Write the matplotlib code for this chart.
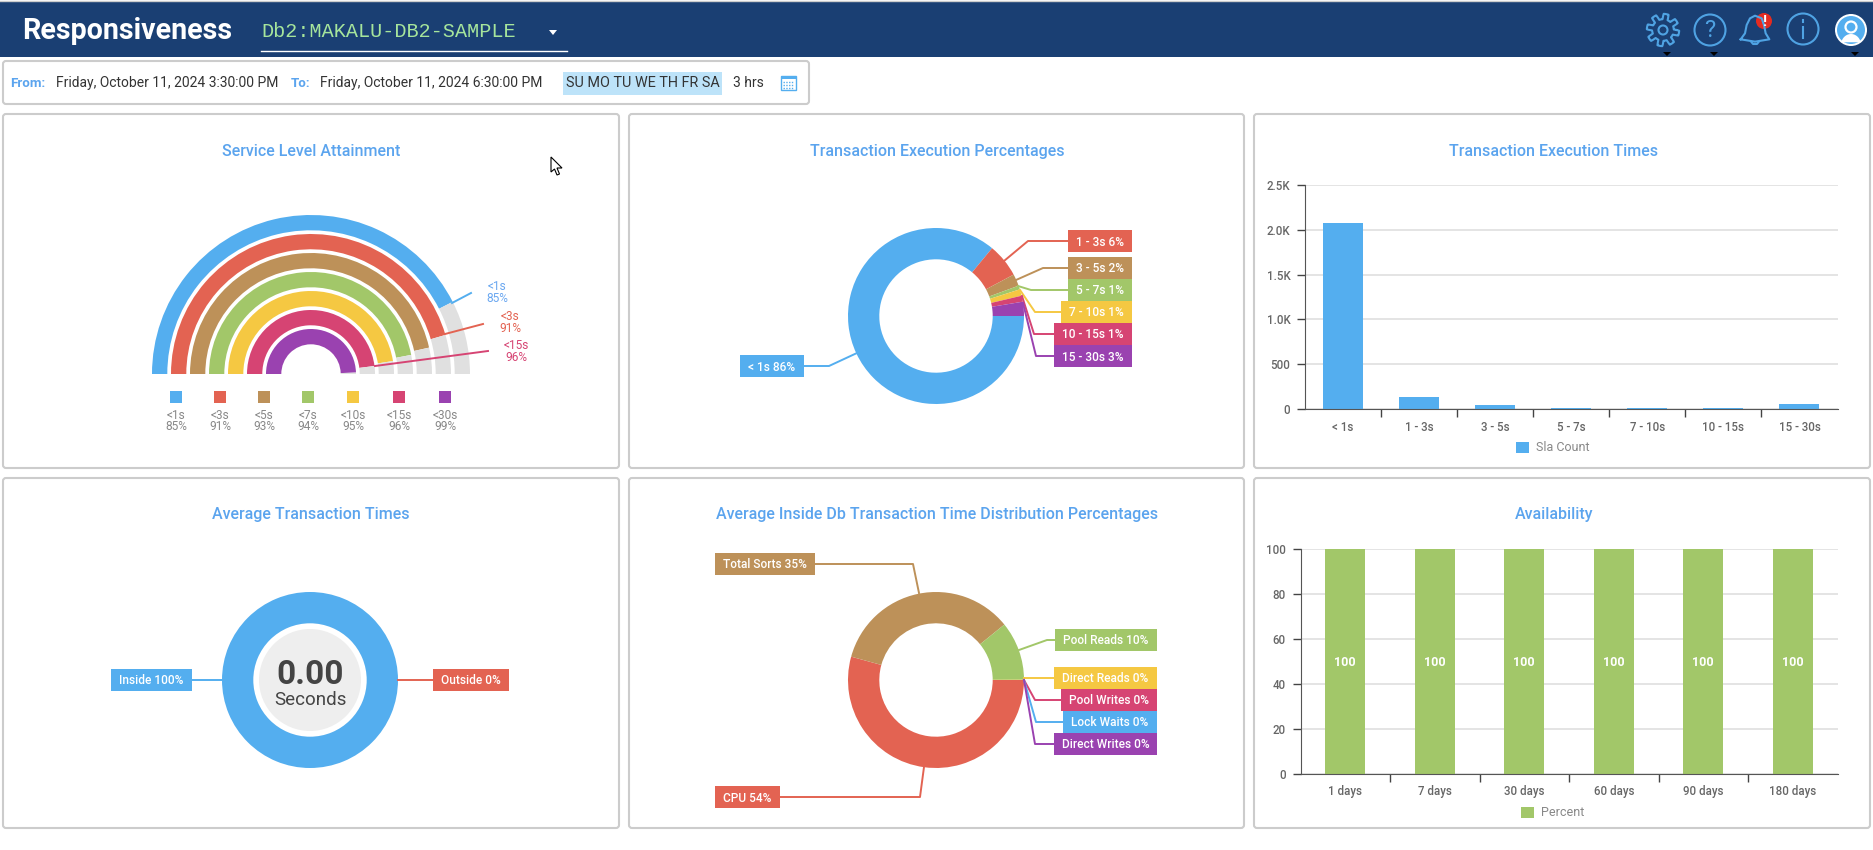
import numpy as np
import matplotlib.pyplot as plt
from matplotlib.patches import Circle, FancyBboxPatch, Rectangle

plt.rcParams['font.family'] = 'Roboto'

blue = '#54aeef'
red = '#e36352'
tan = '#bd9159'
green = '#a2c769'
yellow = '#f5c842'
pink = '#d64473'
purple = '#9a42b0'
grey = '#e0e0e0'
title_blue = '#5ba4ee'

# service level rings, outermost first
rings = {
    '<1s': 85, '<3s': 91, '<5s': 93, '<7s': 94, '<10s': 95, '<15s': 96, '<30s': 99
}
ring_colors = [blue, red, tan, green, yellow, pink, purple]
ring_radius = [159, 140, 121, 102, 83, 64, 45]
legend_x = [176, 220, 264, 308, 353, 399, 445]

# donut slices, clockwise from 3 o'clock
execution = [86, 6.2, 2.2, 0.7, 1.2, 1.1, 2.6]
execution_colors = [blue, red, tan, green, yellow, pink, purple]
average = [100, 0]
inside_db = [54.3, 34.9, 10.8, 0.05, 0, 0, 0]
inside_db_colors = [red, tan, green, yellow, pink, blue, purple]

# bars
sla_names = ['< 1s', '1 - 3s', '3 - 5s', '5 - 7s', '7 - 10s', '10 - 15s', '15 - 30s']
sla_count = [2080, 138, 48, 15, 15, 15, 60]
days = ['1 days', '7 days', '30 days', '60 days', '90 days', '180 days']
percent = [100, 100, 100, 100, 100, 100]

# boxes on the donuts: text, colour, x0, x1, y0, y1, leader line
boxes = [
    ('1 - 3s 6%', red, 1068, 1132, 230, 252, [(1004, 261), (1028, 241), (1068, 241)]),
    ('3 - 5s 2%', tan, 1068, 1132, 257, 279, [(1016, 280), (1043, 268), (1068, 268)]),
    ('5 - 7s 1%', green, 1068, 1132, 279, 301, [(1018, 286), (1031, 290), (1068, 290)]),
    ('7 - 10s 1%', yellow, 1061, 1132, 301, 323, [(1020, 290), (1035, 312), (1061, 312)]),
    ('10 - 15s 1%', pink, 1054, 1132, 323, 345, [(1022, 296), (1034, 334), (1054, 334)]),
    ('15 - 30s 3%', purple, 1054, 1132, 345, 367, [(1023, 303), (1036, 356), (1054, 356)]),
    ('< 1s 86%', blue, 740, 804, 355, 377, [(857, 353), (829, 366), (804, 366)]),
    ('Inside 100%', blue, 111, 192, 669, 691, [(222, 680), (192, 680)]),
    ('Outside 0%', red, 433, 509, 669, 691, [(398, 680), (433, 680)]),
    ('Total Sorts 35%', tan, 715, 815, 553, 575, [(919, 593), (913, 564), (815, 564)]),
    ('Pool Reads 10%', green, 1055, 1157, 629, 651, [(1019, 650), (1047, 640), (1055, 640)]),
    ('Direct Reads 0%', yellow, 1054, 1157, 667, 689, [(1024, 678), (1054, 678)]),
    ('Pool Writes 0%', pink, 1061, 1157, 689, 711, [(1024, 680), (1035, 700), (1061, 700)]),
    ('Lock Waits 0%', blue, 1063, 1157, 711, 733, [(1024, 680), (1036, 722), (1063, 722)]),
    ('Direct Writes 0%', purple, 1054, 1157, 733, 755, [(1024, 680), (1035, 744), (1054, 744)]),
    ('CPU 54%', red, 715, 780, 786, 808, [(924, 767), (920, 797), (780, 797)]),
]

plt.figure(figsize=(18.73, 8.5), dpi=100)

# rings and donuts, in pixels with y going up
plt.axes([0, 0, 1, 1])
for pct, color, radius in zip(rings.values(), ring_colors, ring_radius):
    plt.pie([pct, 100 - pct, 100], colors=[color, grey, 'none'], startangle=180, counterclock=False,
            radius=radius, center=(311, 850 - 374), wedgeprops={'width': 15.3, 'linewidth': 0}, frame=True)
plt.pie(execution, colors=execution_colors, counterclock=False, radius=88, center=(936, 850 - 316),
        wedgeprops={'width': 31.3, 'linewidth': 0}, frame=True)
plt.pie(average, colors=[blue, red], counterclock=False, radius=88, center=(310, 850 - 680),
        wedgeprops={'width': 31.3, 'linewidth': 0}, frame=True)
plt.pie(inside_db, colors=inside_db_colors, counterclock=False, radius=88, center=(936, 850 - 680),
        wedgeprops={'width': 31.3, 'linewidth': 0}, frame=True)
plt.xlim(0, 1873)
plt.ylim(0, 850)
plt.axis('off')

# everything around the charts, in pixels with y going down
plt.axes([0, 0, 1, 1], facecolor='none')
plt.xlim(0, 1873)
plt.ylim(850, 0)
plt.axis('off')
ax = plt.gca()

ax.add_patch(Rectangle((0, 1), 1873, 56, color='#1a3f73', lw=0))
plt.plot([0, 1873], [0.5, 0.5], color='#cccccc', lw=1)
plt.text(22, 31, 'Responsiveness', color='white', fontsize=20.6, fontweight='bold', va='center')
plt.text(261, 31, 'Db2:MAKALU-DB2-SAMPLE', color='#a6e59c', fontsize=14.5, family='Liberation Mono', va='center')
plt.plot([261, 567], [51, 51], color='white', lw=1)
plt.fill([549, 557, 553], [30, 30, 35], color='white', lw=0)

# header icons
icon = '#4fa3e3'
t = np.linspace(0, 2 * np.pi, 400)
gear = 13.5 + 2.7 * np.clip(3 * np.sin(8 * t), -1, 1)
plt.plot(1663 + gear * np.cos(t), 30 + gear * np.sin(t), color=icon, lw=1.5)
ax.add_patch(Circle((1663, 30), 4.5, fill=False, ec=icon, lw=1.5))
ax.add_patch(Circle((1710, 30), 15.5, fill=False, ec=icon, lw=1.5))
plt.text(1710, 30, '?', color=icon, fontsize=17, ha='center', va='center')
bell_x = [1022, 1035, 1040, 1050, 1065, 1085, 1092, 1097, 1108, 1065, 1022]
bell_y = [118, 100, 75, 55, 47, 55, 75, 100, 118, 125, 118]
plt.plot(1400 + np.array(bell_x) / 3, np.array(bell_y) / 3, color=icon, lw=1.5)
plt.plot([1751, 1753, 1757, 1759], [41.5, 44, 44, 41.5], color=icon, lw=1.5)
ax.add_patch(Circle((1764, 21), 8, color='#e52b20', lw=0))
plt.text(1764, 21.5, '!', color='white', fontsize=11, fontweight='bold', ha='center', va='center')
ax.add_patch(Circle((1803, 29), 15.5, fill=False, ec=icon, lw=1.5))
plt.plot([1803, 1803], [27, 38], color=icon, lw=1.5)
plt.plot([1803, 1803], [20, 22], color=icon, lw=1.5)
ax.add_patch(Circle((1851, 30), 16, color='white', lw=0))
ax.add_patch(Circle((1851, 30), 14, color=blue, lw=0))
ax.add_patch(Circle((1851, 27), 5.5, fc=blue, ec='white', lw=1.6))
s = np.linspace(np.pi * 1.08, np.pi * 1.92, 50)
plt.fill(1851 + 10 * np.cos(s), 45 + 11 * np.sin(s), color='white', lw=0)
plt.fill([1663, 1671, 1667], [52, 52, 56], color='black', lw=0)
plt.fill([1710, 1718, 1714], [52, 52, 56], color='black', lw=0)
plt.fill([1851, 1859, 1855], [52, 52, 56], color='black', lw=0)

# date bar
ax.add_patch(FancyBboxPatch((3, 61), 806, 43, boxstyle='round,pad=0,rounding_size=3', fc='white', ec='#cccccc', lw=1.5))
plt.text(10, 83, 'From:', color=title_blue, fontsize=9.6, fontweight='bold', va='center')
plt.text(56, 83, 'Friday, October 11, 2024 3:30:00 PM', color='#333333', fontsize=10, va='center')
plt.text(291, 83, 'To:', color=title_blue, fontsize=9.6, fontweight='bold', va='center')
plt.text(320, 83, 'Friday, October 11, 2024 6:30:00 PM', color='#333333', fontsize=10, va='center')
ax.add_patch(Rectangle((563, 72), 159, 23, color='#bde3f9', lw=0))
plt.text(642.5, 83, 'SU MO TU WE TH FR SA', color='#333333', fontsize=10.4, ha='center', va='center')
plt.text(733, 83, '3 hrs', color='#333333', fontsize=10, va='center')
ax.add_patch(Rectangle((781, 76), 15, 14, fill=False, ec=blue, lw=1))
ax.add_patch(Rectangle((781, 76), 15, 3, color=blue, lw=0))
for gy in [82, 85, 88]:
    plt.plot([783, 794], [gy, gy], color=blue, lw=1, ls=(0, (1, 1)))

# panels
panels = [(3, 619), (629, 1244), (1254, 1870)]
for x0, x1 in panels:
    for y0, y1 in [(114, 468), (478, 828)]:
        ax.add_patch(FancyBboxPatch((x0, y0), x1 - x0, y1 - y0, boxstyle='round,pad=0,rounding_size=3',
                                    fc='none', ec='#cccccc', lw=1.5))
titles = [
    (311, 151, 'Service Level Attainment'),
    (937, 151, 'Transaction Execution Percentages'),
    (1554, 151, 'Transaction Execution Times'),
    (311, 514.5, 'Average Transaction Times'),
    (937, 514.5, 'Average Inside Db Transaction Time Distribution Percentages'),
    (1554, 514.5, 'Availability'),
]
for x, y, text in titles:
    plt.text(x, y, text, color=title_blue, fontsize=11.5, fontweight='medium', ha='center', va='center')

# rings legend and callouts
for name, pct, color, x in zip(rings, rings.values(), ring_colors, legend_x):
    ax.add_patch(Rectangle((x - 6, 391), 12, 12, color=color, lw=0))
    plt.text(x, 415, name, color='#888888', fontsize=8.6, ha='center', va='center')
    plt.text(x, 426.5, '%d%%' % pct, color='#888888', fontsize=8.6, ha='center', va='center')
plt.plot([452, 471], [303, 293], color=blue, lw=1.4)
plt.text(497, 286, '<1s', color='#6aa7f0', fontsize=8.6, ha='center', va='center')
plt.text(497, 298, '85%', color='#6aa7f0', fontsize=8.6, ha='center', va='center')
plt.plot([445, 483], [334, 324], color=red, lw=1.4)
plt.text(510, 317, '<3s', color=red, fontsize=8.6, ha='center', va='center')
plt.text(510, 329, '91%', color=red, fontsize=8.6, ha='center', va='center')
plt.plot([375, 488], [366, 351], color=pink, lw=1.4)
plt.text(516, 345, '<15s', color=pink, fontsize=8.6, ha='center', va='center')
plt.text(516, 357, '96%', color=pink, fontsize=8.6, ha='center', va='center')

# donut boxes
for text, color, x0, x1, y0, y1, leader in boxes:
    plt.plot([p[0] for p in leader], [p[1] for p in leader], color=color, lw=1.4)
    ax.add_patch(Rectangle((x0, y0), x1 - x0, y1 - y0, color=color, lw=0))
    plt.text((x0 + x1) / 2, (y0 + y1) / 2 + 1, text, color='white', fontsize=8.6, fontweight='medium', ha='center', va='center')

# middle of the average donut
ax.add_patch(Circle((310, 680), 51, color='#eeeeee', lw=0))
plt.text(310, 675, '0.00', color='#444444', fontsize=24, fontweight='bold', ha='center', va='center')
plt.text(310, 700, 'Seconds', color='#444444', fontsize=13.5, ha='center', va='center')

# mouse pointer
plt.fill([551, 551, 554.5, 557, 559.5, 557, 562], [157, 172, 169, 175, 174, 168, 168], fc='white', ec='black', lw=0.8)

# execution times bars
plt.axes([1305 / 1873, (850 - 409) / 850, (1837.5 - 1305) / 1873, 224 / 850], facecolor='none')
plt.bar(sla_names, sla_count, width=0.525, color=blue, label='Sla Count', zorder=2)
plt.xlim(-0.5, 6.5)
plt.ylim(0, 2500)
plt.yticks([0, 500, 1000, 1500, 2000, 2500], ['0', '500', '1.0K', '1.5K', '2.0K', '2.5K'], fontweight='medium')
plt.xticks(fontweight='medium')
plt.grid(axis='y', color='#dddddd', lw=1.1, zorder=0)
plt.gca().set_xticks(np.arange(0.5, 6), minor=True)
plt.tick_params(axis='x', which='major', length=0, pad=8.5, labelsize=8.3, labelcolor='#666666')
plt.tick_params(axis='x', which='minor', length=6, width=1, color='#444444')
plt.tick_params(axis='y', length=6, width=1, color='#444444', pad=4.5, labelsize=8.3, labelcolor='#666666')
plt.gca().spines[['top', 'right']].set_visible(False)
plt.gca().spines[['left', 'bottom']].set_color('#555555')
plt.legend(loc='center', bbox_to_anchor=(0.466, -0.174), frameon=False, handlelength=1, handleheight=1,
           handletextpad=0.6, fontsize=9, labelcolor='#888888')

# availability bars
plt.axes([1300.5 / 1873, (850 - 774) / 850, (1837.5 - 1300.5) / 1873, 225 / 850], facecolor='none')
plt.bar(days, percent, width=0.447, color=green, label='Percent', zorder=2)
for i, value in enumerate(percent):
    plt.text(i, value / 2, str(value), color='white', fontsize=9, fontweight='bold', ha='center', va='center_baseline')
plt.xlim(-0.5, 5.5)
plt.ylim(0, 100)
plt.yticks([0, 20, 40, 60, 80, 100], fontweight='medium')
plt.xticks(fontweight='medium')
plt.grid(axis='y', color='#dddddd', lw=1.1, zorder=0)
plt.gca().set_xticks(np.arange(0.5, 5), minor=True)
plt.tick_params(axis='x', which='major', length=0, pad=8, labelsize=8.3, labelcolor='#666666')
plt.tick_params(axis='x', which='minor', length=6, width=1, color='#444444')
plt.tick_params(axis='y', length=6, width=1, color='#444444', pad=4.5, labelsize=8.3, labelcolor='#666666')
plt.gca().spines[['top', 'right']].set_visible(False)
plt.gca().spines[['left', 'bottom']].set_color('#555555')
plt.legend(loc='center', bbox_to_anchor=(0.47, -0.173), frameon=False, handlelength=1, handleheight=1,
           handletextpad=0.6, fontsize=9, labelcolor='#888888')

plt.savefig('out.png', dpi=100)
